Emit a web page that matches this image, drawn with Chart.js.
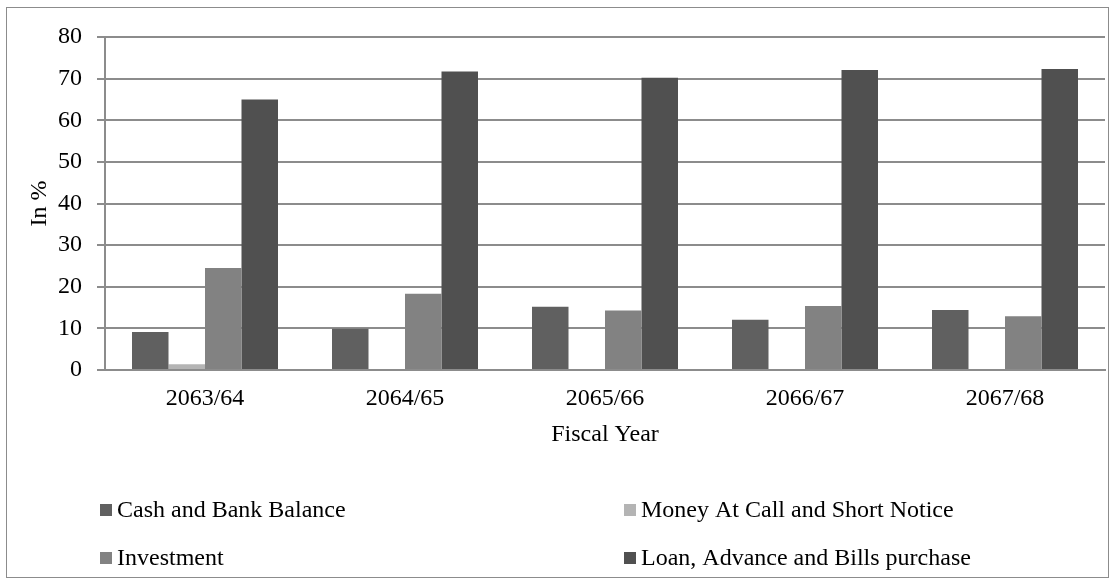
<!DOCTYPE html>
<html>
<head>
<meta charset="utf-8">
<script src="https://cdn.jsdelivr.net/npm/chart.js@4/dist/chart.umd.min.js"></script>
<style>
  html, body { margin: 0; padding: 0; background: #ffffff; }
  #wrap { width: 1116px; height: 582px; position: relative; }
</style>
</head>
<body>
<div id="wrap"><canvas id="c" width="1116" height="582"></canvas></div>
<script>
// Fiscal years (Nepali calendar)
const years = ['2063/64', '2064/65', '2065/66', '2066/67', '2067/68'];

// Share of total assets, in %
const cashAndBank   = [9.1, 9.9, 15.2, 12.1, 14.4];
const moneyAtCall   = [1.4, 0, 0, 0, 0];
const investment    = [24.5, 18.3, 14.3, 15.4, 12.9];
const loanAdvance   = [65.0, 71.7, 70.2, 72.1, 72.3];

const seriesNames = [
  'Cash and Bank Balance',
  'Money At Call and Short Notice',
  'Investment',
  'Loan, Advance and Bills purchase'
];
const seriesColors = ['#606060', '#b4b4b4', '#828282', '#505050'];

// Y-axis ticks
const yMin = 0, yMax = 80, yStep = 10;

const FONT = 'Liberation Serif';
const FS = 24;

// Outer frame and white background
const framePlugin = {
  id: 'frame',
  beforeDraw(chart) {
    const ctx = chart.ctx;
    ctx.save();
    ctx.fillStyle = '#ffffff';
    ctx.fillRect(0, 0, chart.width, chart.height);
    ctx.strokeStyle = '#8c8c8c';
    ctx.lineWidth = 1;
    ctx.strokeRect(6.5, 7.5, chart.width - 14, chart.height - 12);
    ctx.restore();
  }
};

// Two-column legend below the axis title
const gridLegend = {
  id: 'gridLegend',
  afterDraw(chart) {
    const ctx = chart.ctx;
    const area = chart.chartArea;
    const cols = [area.left - 5, area.left + 519];
    const rows = [510, 558];
    const box = 12;
    ctx.save();
    ctx.font = FS + 'px "' + FONT + '"';
    ctx.textBaseline = 'middle';
    ctx.textAlign = 'left';
    chart.data.datasets.forEach((ds, i) => {
      const x = cols[i % 2];
      const y = rows[Math.floor(i / 2)];
      ctx.fillStyle = ds.backgroundColor;
      ctx.fillRect(x, y - box / 2, box, box);
      ctx.fillStyle = '#000000';
      ctx.fillText(ds.label, x + box + 5, y + 1);
    });
    ctx.restore();
  }
};

const datasets = [cashAndBank, moneyAtCall, investment, loanAdvance].map((vals, i) => ({
  label: seriesNames[i],
  data: vals,
  backgroundColor: seriesColors[i],
  borderWidth: 0
}));

new Chart(document.getElementById('c'), {
  type: 'bar',
  data: { labels: years, datasets },
  plugins: [framePlugin, gridLegend],
  options: {
    responsive: false,
    devicePixelRatio: 1,
    animation: false,
    layout: { padding: { left: 7, top: 37, right: 11, bottom: 133 } },
    datasets: { bar: { categoryPercentage: 0.73, barPercentage: 1.0 } },
    plugins: {
      legend: { display: false },
      tooltip: { enabled: false },
      title: { display: false }
    },
    scales: {
      x: {
        grid: { display: false, drawTicks: false },
        border: { display: true, color: '#8c8c8c', width: 2 },
        ticks: {
          color: '#000000',
          padding: 14,
          font: { family: FONT, size: FS }
        },
        title: {
          display: true,
          text: 'Fiscal Year',
          color: '#000000',
          padding: { top: 0, bottom: 0 },
          font: { family: FONT, size: FS }
        },
        afterFit(scale) { scale.height = 79; }
      },
      y: {
        min: yMin,
        max: yMax,
        grid: {
          color: '#8c8c8c',
          lineWidth: 2,
          drawTicks: true,
          tickLength: 8
        },
        border: { display: true, color: '#8c8c8c', width: 2 },
        ticks: {
          stepSize: yStep,
          color: '#000000',
          padding: 15,
          font: { family: FONT, size: FS }
        },
        title: {
          display: true,
          text: 'In %',
          color: '#000000',
          padding: { top: 18, bottom: 0 },
          font: { family: FONT, size: FS }
        },
        afterFit(scale) { scale.width = 98; }
      }
    }
  }
});
</script>
</body>
</html>
